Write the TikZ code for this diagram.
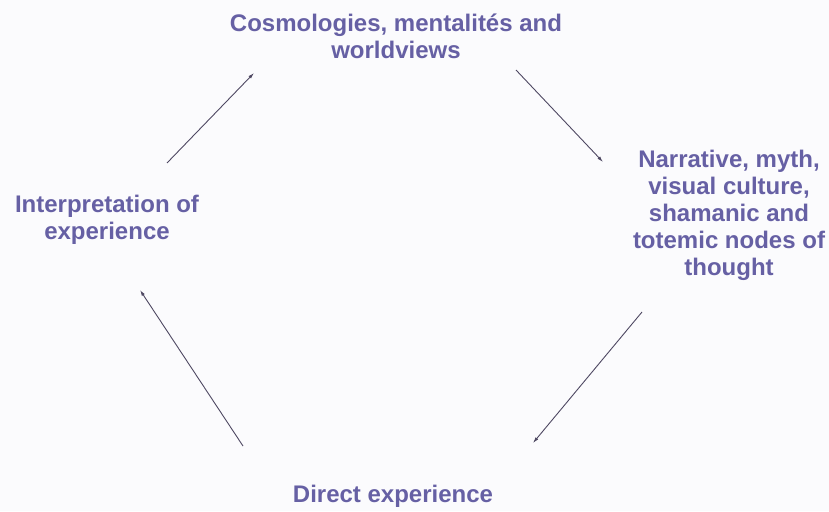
\documentclass[tikz,border=0pt]{standalone}
\usepackage{fontspec}
\setmainfont{Liberation Sans}
\usetikzlibrary{arrows.meta}
\definecolor{lbl}{RGB}{102,96,164}
\definecolor{conn}{RGB}{78,72,98}
\definecolor{paper}{RGB}{251,251,253}
\tikzset{
  lab/.style={font=\bfseries\fontsize{24}{27}\selectfont, text=lbl, align=center, inner sep=0pt},
  link/.style={draw=conn, line width=0.9pt, -{Latex[length=6pt,width=3.5pt]}}
}
\begin{document}
\begin{tikzpicture}[x=1pt,y=-1pt]
\fill[paper] (0,0) rectangle (829,511);
\useasboundingbox (0,0) rectangle (829,511);
\node[lab] (cos) at (396,36) {Cosmologies, mentalités and\\worldviews};
\node[lab] (nar) at (729,215) {Narrative, myth,\\visual culture,\\shamanic and\\totemic nodes of\\thought};
\node[lab] (dir) at (393,496) {Direct experience};
\node[lab] (int) at (107,220) {Interpretation of\\experience};
\coordinate (a1s) at (167,163);
\coordinate (a1e) at (254,73);
\coordinate (a2s) at (516,70);
\coordinate (a2e) at (603,162);
\coordinate (a3s) at (642,312);
\coordinate (a3e) at (533,443);
\coordinate (a4s) at (243,446);
\coordinate (a4e) at (140,290);
\draw[link] (a1s) -- (a1e);
\draw[link] (a2s) -- (a2e);
\draw[link] (a3s) -- (a3e);
\draw[link] (a4s) -- (a4e);
\end{tikzpicture}
\end{document}
